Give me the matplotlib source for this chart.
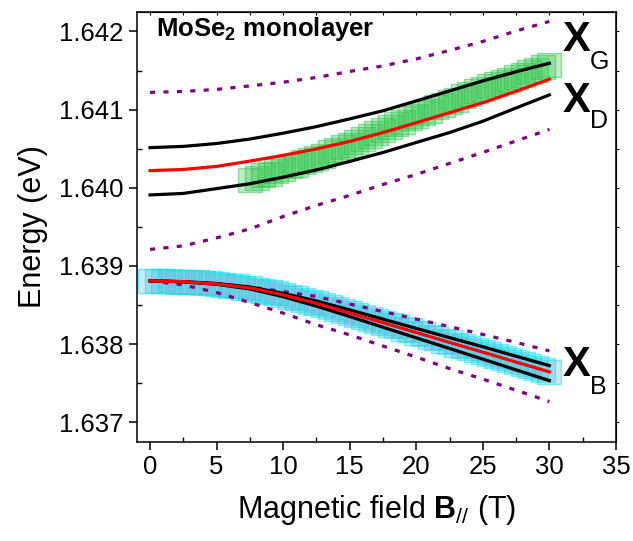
import numpy as np
import matplotlib
matplotlib.use("Agg")
import matplotlib.pyplot as plt

plt.rcParams["font.family"] = ["Liberation Sans", "DejaVu Sans"]
plt.rcParams["mathtext.fontset"] = "custom"
plt.rcParams["mathtext.rm"] = "Liberation Sans"
plt.rcParams["mathtext.bf"] = "Liberation Sans:bold"
plt.rcParams["mathtext.it"] = "Liberation Sans:italic"

# field grid for the model curves (T)
b_fit = [0, 2.5, 5, 7.5, 10, 12.5, 15, 17.5, 20, 22.5, 25, 27.5, 30]

# X_G / X_D branch (eV)
g_black_up = [1.640513, 1.640529, 1.640566, 1.640623, 1.640698, 1.640782, 1.640881,
              1.640985, 1.641111, 1.641239, 1.641367, 1.641484, 1.641593]
g_red = [1.640219, 1.640234, 1.640273, 1.640341, 1.640414, 1.640497, 1.640593,
         1.640706, 1.640832, 1.640960, 1.641088, 1.641235, 1.641388]
g_black_lo = [1.639908, 1.639927, 1.639989, 1.640051, 1.640135, 1.640228, 1.640337,
              1.640451, 1.640579, 1.640706, 1.640851, 1.641021, 1.641188]
g_dot_up = [1.641220, 1.641232, 1.641258, 1.641303, 1.641350, 1.641411, 1.641488,
            1.641559, 1.641648, 1.641757, 1.641872, 1.642006, 1.642128]
g_dot_lo = [1.639211, 1.639256, 1.639358, 1.639473, 1.639632, 1.639774, 1.639902,
            1.640042, 1.640170, 1.640311, 1.640452, 1.640599, 1.640746]

# X_B branch (eV)
b_red = [1.638808, 1.638798, 1.638769, 1.638718, 1.638629, 1.638520, 1.638398,
         1.638273, 1.638147, 1.638021, 1.637896, 1.637769, 1.637644]
b_black_up = [1.638808, 1.638799, 1.638775, 1.638730, 1.638649, 1.638551, 1.638437,
              1.638319, 1.638200, 1.638082, 1.637965, 1.637844, 1.637724]
b_black_lo = [1.638808, 1.638796, 1.638764, 1.638705, 1.638606, 1.638485, 1.638352,
              1.638215, 1.638079, 1.637943, 1.637807, 1.637669, 1.637532]
b_dot_up = [1.638808, 1.638791, 1.638773, 1.638729, 1.638672, 1.638608, 1.638512,
            1.638416, 1.638319, 1.638223, 1.638123, 1.638021, 1.637912]
b_dot_lo = [1.638808, 1.638757, 1.638659, 1.638531, 1.638396, 1.638247, 1.638117,
            1.637975, 1.637833, 1.637686, 1.637551, 1.637409, 1.637264]

# measured peaks, upper branch (green)
green_b = [7.5, 8, 8.5, 9, 9.5, 10, 10.5, 11, 11.5, 12, 12.5, 13, 13.5, 14, 14.5, 15,
           15.5, 16, 16.5, 17, 17.5, 18, 18.5, 19, 19.5, 20, 20.5, 21, 21.5, 22, 22.5,
           23, 23.5, 24, 24.5, 25, 25.5, 26, 26.5, 27, 27.5, 28, 28.5, 29, 29.5, 30]
green_e = [1.640100, 1.640124, 1.640160, 1.640181, 1.640216, 1.640238, 1.640272, 1.640293,
           1.640329, 1.640350, 1.640385, 1.640412, 1.640451, 1.640478, 1.640518, 1.640545,
           1.640589, 1.640621, 1.640666, 1.640698, 1.640743, 1.640772, 1.640815, 1.640844,
           1.640886, 1.640916, 1.640958, 1.640988, 1.641030, 1.641058, 1.641101, 1.641128,
           1.641168, 1.641195, 1.641234, 1.641261, 1.641298, 1.641322, 1.641359, 1.641384,
           1.641421, 1.641446, 1.641482, 1.641507, 1.641544, 1.641571]

# measured peaks, lower branch (cyan)
cyan_b = [0, 0.5, 1, 1.5, 2, 2.5, 3, 3.5, 4, 4.5, 5, 5.5, 6, 6.5, 7, 7.5, 8, 8.5, 9, 9.5,
          10, 10.5, 11, 11.5, 12, 12.5, 13, 13.5, 14, 14.5, 15, 15.5, 16, 16.5, 17, 17.5,
          18, 18.5, 19, 19.5, 20, 20.5, 21, 21.5, 22, 22.5, 23, 23.5, 24, 24.5, 25, 25.5,
          26, 26.5, 27, 27.5, 28, 28.5, 29, 29.5, 30]
cyan_e = [1.638808, 1.638812, 1.638804, 1.638807, 1.638799, 1.638798, 1.638790, 1.638789,
          1.638778, 1.638775, 1.638763, 1.638758, 1.638745, 1.638738, 1.638722, 1.638714,
          1.638695, 1.638683, 1.638662, 1.638648, 1.638625, 1.638608, 1.638583, 1.638566,
          1.638540, 1.638522, 1.638495, 1.638475, 1.638447, 1.638426, 1.638397, 1.638376,
          1.638347, 1.638326, 1.638296, 1.638275, 1.638246, 1.638225, 1.638196, 1.638174,
          1.638145, 1.638124, 1.638095, 1.638074, 1.638044, 1.638023, 1.637994, 1.637973,
          1.637944, 1.637923, 1.637894, 1.637872, 1.637843, 1.637822, 1.637793, 1.637771,
          1.637742, 1.637721, 1.637692, 1.637671, 1.637644]

fig = plt.figure(figsize=(6.33, 5.41), dpi=100)
ax = fig.add_axes([0.216, 0.1835, 0.757, 0.7945])

ax.plot(green_b, green_e, ls="none", marker="s", ms=17.5, mew=1.0,
        mfc=(0.2, 0.78, 0.3, 0.32), mec=(0.1, 0.75, 0.25, 0.45))
ax.plot(cyan_b, cyan_e, ls="none", marker="s", ms=17.5, mew=1.0,
        mfc=(0.3, 0.72, 0.85, 0.3), mec=(0.0, 0.9, 0.95, 0.5))

purple = "#800080"
dots = (0, (1.6, 2.6))
for ys in (g_dot_up, g_dot_lo, b_dot_up, b_dot_lo):
    ax.plot(b_fit, ys, color=purple, lw=2.3, ls=dots)
for ys in (g_black_up, g_black_lo, b_black_up, b_black_lo):
    ax.plot(b_fit, ys, color="black", lw=2.3)
ax.plot(b_fit, g_red, color="red", lw=2.3)
ax.plot(b_fit, b_red, color="red", lw=2.3)

ax.set_xlim(-1, 35)
ax.set_ylim(1.63675, 1.64225)
ax.set_xticks(np.arange(0, 36, 5))
ax.set_yticks([1.637, 1.638, 1.639, 1.640, 1.641, 1.642])
ax.set_yticklabels(["1.637", "1.638", "1.639", "1.640", "1.641", "1.642"])
ax.set_xticks(np.arange(2.5, 35, 5), minor=True)
ax.set_yticks(np.arange(1.6375, 1.642, 0.001), minor=True)
ax.tick_params(which="major", direction="out", length=6, width=1.1, labelsize=18.5)
ax.tick_params(which="minor", direction="in", length=3.5, width=1.0)
for s in ax.spines.values():
    s.set_linewidth(1.1)

top = ax.secondary_xaxis("top")
top.set_xticks(np.arange(0, 35.1, 2.5))
top.tick_params(direction="in", length=2, width=0.8, labeltop=False)
right = ax.secondary_yaxis("right")
right.set_yticks(np.arange(1.637, 1.6421, 0.0005))
right.tick_params(direction="out", length=2, width=0.8, labelright=False)

ax.set_xlabel(r"Magnetic field $\mathbf{B}_{//}$ (T)", fontsize=22, labelpad=10)
ax.set_ylabel("Energy (eV)", fontsize=22, labelpad=8)

ax.text(0.45, 1.64203, r"MoSe$_\mathbf{2}$ monolayer", fontsize=18.5,
        fontweight="bold", va="center", ha="left")
ax.text(31.0, 1.641891, "X", fontsize=30, fontweight="bold", va="center")
ax.text(33.05, 1.641610, "G", fontsize=18, va="center")
ax.text(31.0, 1.641111, "X", fontsize=30, fontweight="bold", va="center")
ax.text(33.05, 1.640855, "D", fontsize=18, va="center")
ax.text(31.0, 1.637733, "X", fontsize=30, fontweight="bold", va="center")
ax.text(33.05, 1.637452, "B", fontsize=18, va="center")

fig.savefig("out.png", dpi=100)
